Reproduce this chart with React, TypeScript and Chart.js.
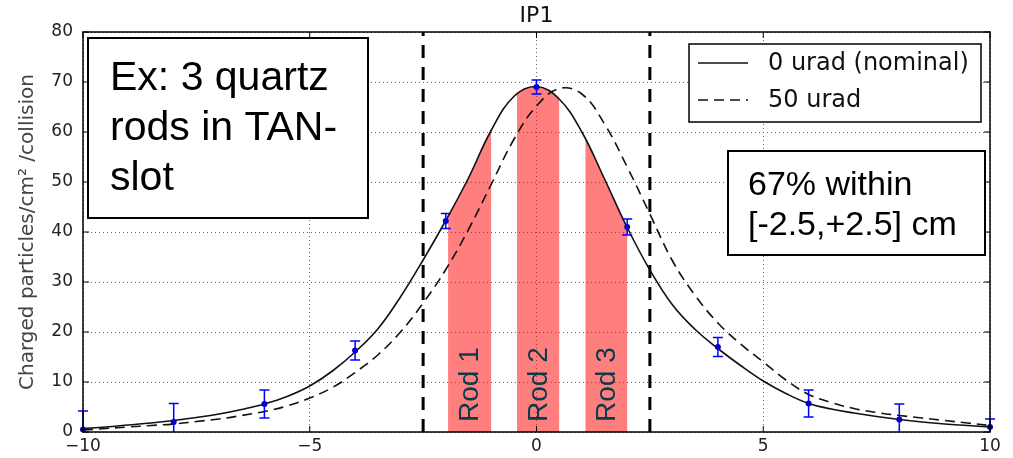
import React, { useEffect, useRef } from "react";
import { Chart, registerables } from "chart.js";

Chart.register(...registerables);

// ---- data ----
const curveX = [
  -10, -9.5, -9, -8.5, -8, -7.5, -7, -6.5, -6, -5.5, -5, -4.5, -4, -3.5, -3, -2.5, -2, -1.5, -1, -0.5,
  0, 0.5, 1, 1.5, 2, 2.5, 3, 3.5, 4, 4.5, 5, 5.5, 6, 6.5, 7, 7.5, 8, 8.5, 9, 9.5, 10,
];
const nominal0urad = [
  0.7, 1.0, 1.4, 1.8, 2.3, 2.9, 3.6, 4.5, 5.6, 7.1, 9.2, 12.2, 16.0, 20.6, 27.0, 34.4, 42.3, 50.8, 60.3, 67.1,
  69.1, 66.6, 60.0, 50.6, 40.9, 32.4, 25.4, 20.5, 16.7, 13.3, 10.2, 7.7, 5.7, 4.6, 3.8, 3.1, 2.5, 2.0, 1.6, 1.3, 1.0,
];
const tilted50urad = [
  0.4, 0.7, 1.0, 1.3, 1.6, 2.1, 2.6, 3.3, 4.1, 5.2, 6.8, 8.9, 11.9, 15.4, 20.0, 25.8, 32.5, 40.5, 49.5, 58.5,
  65.2, 68.7, 67.6, 61.6, 53.0, 43.6, 34.2, 27.3, 21.8, 17.6, 14.0, 10.4, 7.5, 5.9, 4.7, 3.9, 3.3, 2.8, 2.3, 1.8, 1.3,
];

const measX = [-10, -8, -6, -4, -2, 0, 2, 4, 6, 8, 10];
const measY = [0.5, 2.0, 5.6, 16.3, 42.2, 69.0, 41.0, 17.0, 5.7, 2.5, 1.0];
const measErr = [3.7, 3.7, 2.8, 1.9, 1.5, 1.4, 1.6, 1.9, 2.7, 3.1, 1.6];

const rodLabels = ["Rod 1", "Rod 2", "Rod 3"];
const rodFrom = [-1.95, -0.43, 1.08];
const rodTo = [-1.0, 0.5, 2.0];

const windowEdges = [-2.5, 2.5];

const seriesLabels = ["0 urad (nominal)", "50 urad"];
const noteLines = ["Ex: 3 quartz", "rods in TAN-", "slot"];
const fractionLines = ["67% within", "[-2.5,+2.5] cm"];
const chartTitle = "IP1";
const yAxisTitle = "Charged particles/cm\u00B2 /collision";

const xMin = -10, xMax = 10, xStep = 5;
const yMin = 0, yMax = 80, yStep = 10;

const DEJAVU = '"DejaVu Sans", sans-serif';
const ARIAL = '"Liberation Sans", Arial, sans-serif';
const CURVE_TENSION = 0.4;

const decorPlugin = {
  id: "decor",
  beforeDatasetsDraw(chart: any) {
    const { ctx, chartArea: a, scales } = chart;
    const x = scales.x, y = scales.y;
    const meta = chart.getDatasetMeta(0);
    const line: any = meta.dataset;
    const pts: any[] = meta.data;
    const y0 = y.getPixelForValue(0);
    rodFrom.forEach((from, i) => {
      const l = x.getPixelForValue(from);
      const r = x.getPixelForValue(rodTo[i]);
      ctx.save();
      ctx.beginPath();
      ctx.rect(l, a.top, r - l, a.bottom - a.top);
      ctx.clip();
      ctx.beginPath();
      if (line && typeof line.path === "function") {
        if (typeof line.updateControlPoints === "function") line.updateControlPoints(a, "x");
        line.path(ctx);
      } else {
        pts.forEach((p, k) => (k ? ctx.lineTo(p.x, p.y) : ctx.moveTo(p.x, p.y)));
      }
      ctx.lineTo(pts[pts.length - 1].x, y0);
      ctx.lineTo(pts[0].x, y0);
      ctx.closePath();
      ctx.fillStyle = "rgba(255,0,0,0.5)";
      ctx.fill();
      ctx.restore();
    });
  },
  afterDatasetsDraw(chart: any) {
    const { ctx, chartArea: a, scales } = chart;
    const x = scales.x, y = scales.y;
    const y0 = y.getPixelForValue(0);

    // error bars (clipped vertically to the axes)
    ctx.save();
    ctx.beginPath();
    ctx.rect(a.left - 12, a.top, a.right - a.left + 24, a.bottom - a.top);
    ctx.clip();
    ctx.strokeStyle = "#0000ff";
    ctx.lineWidth = 1.5;
    measX.forEach((mx, i) => {
      const px = x.getPixelForValue(mx);
      const t = y.getPixelForValue(measY[i] + measErr[i]);
      const b = y.getPixelForValue(measY[i] - measErr[i]);
      ctx.beginPath();
      ctx.moveTo(px, t); ctx.lineTo(px, b);
      ctx.moveTo(px - 5, t); ctx.lineTo(px + 5, t);
      ctx.moveTo(px - 5, b); ctx.lineTo(px + 5, b);
      ctx.stroke();
    });
    ctx.restore();

    // rod labels
    ctx.save();
    ctx.font = "28px " + ARIAL;
    ctx.fillStyle = "#0b3a4d";
    ctx.textBaseline = "middle";
    ctx.textAlign = "left";
    rodFrom.forEach((from, i) => {
      const cx = (x.getPixelForValue(from) + x.getPixelForValue(rodTo[i])) / 2;
      ctx.save();
      ctx.translate(cx + 1, y0 - 10);
      ctx.rotate(-Math.PI / 2);
      ctx.fillText(rodLabels[i], 0, 0);
      ctx.restore();
    });
    ctx.restore();

    // frame + inward ticks
    ctx.save();
    ctx.strokeStyle = "#000";
    ctx.lineWidth = 1.5;
    ctx.strokeRect(a.left, a.top, a.right - a.left, a.bottom - a.top);
    ctx.lineWidth = 1;
    ctx.beginPath();
    y.ticks.forEach((t: any) => {
      const py = y.getPixelForValue(t.value);
      ctx.moveTo(a.left, py); ctx.lineTo(a.left + 6, py);
      ctx.moveTo(a.right - 6, py); ctx.lineTo(a.right, py);
    });
    x.ticks.forEach((t: any) => {
      const px = x.getPixelForValue(t.value);
      ctx.moveTo(px, a.bottom); ctx.lineTo(px, a.bottom - 6);
      ctx.moveTo(px, a.top); ctx.lineTo(px, a.top + 6);
    });
    ctx.stroke();
    ctx.restore();
  },
  afterDraw(chart: any) {
    const { ctx, chartArea: a } = chart;

    // legend
    ctx.save();
    const lw = 292, lh = 78;
    const lx = a.right - 301, ly = a.top + 12;
    ctx.fillStyle = "#fff";
    ctx.fillRect(lx, ly, lw, lh);
    ctx.strokeStyle = "#000";
    ctx.lineWidth = 1.5;
    ctx.strokeRect(lx, ly, lw, lh);
    const rows = [ly + 19, ly + 56];
    ctx.strokeStyle = "#111";
    ctx.lineWidth = 1.6;
    rows.forEach((ry, i) => {
      ctx.setLineDash(i === 0 ? [] : [10, 6]);
      ctx.beginPath();
      ctx.moveTo(lx + 9, ry);
      ctx.lineTo(lx + 59, ry);
      ctx.stroke();
    });
    ctx.setLineDash([]);
    ctx.fillStyle = "#111";
    ctx.font = "24px " + DEJAVU;
    ctx.textBaseline = "middle";
    ctx.textAlign = "left";
    rows.forEach((ry, i) => ctx.fillText(seriesLabels[i], lx + 79, ry + 1));
    ctx.restore();

    // note box
    ctx.save();
    const nx = a.left + 5, ny = a.top + 6, nw = 280, nh = 180;
    ctx.fillStyle = "#fff";
    ctx.fillRect(nx, ny, nw, nh);
    ctx.strokeStyle = "#000";
    ctx.lineWidth = 2;
    ctx.strokeRect(nx, ny, nw, nh);
    ctx.fillStyle = "#000";
    ctx.font = "41px " + ARIAL;
    ctx.textBaseline = "alphabetic";
    noteLines.forEach((s, i) => ctx.fillText(s, nx + 22, ny + 52 + i * 50));
    ctx.restore();

    // fraction box
    ctx.save();
    const fw = 257, fh = 104;
    const fx = a.right - 5 - fw, fy = a.top + 119;
    ctx.fillStyle = "#fff";
    ctx.fillRect(fx, fy, fw, fh);
    ctx.strokeStyle = "#000";
    ctx.lineWidth = 2;
    ctx.strokeRect(fx, fy, fw, fh);
    ctx.fillStyle = "#000";
    ctx.font = "34px " + ARIAL;
    ctx.textBaseline = "alphabetic";
    fractionLines.forEach((s, i) => ctx.fillText(s, fx + 20, fy + 44 + i * 40));
    ctx.restore();
  },
};

export default function App() {
  const canvasRef = useRef<HTMLCanvasElement | null>(null);

  useEffect(() => {
    const canvas = canvasRef.current;
    if (!canvas) return;

    const toPts = (vals: number[]) => curveX.map((x, i) => ({ x, y: vals[i] }));

    const datasets: any[] = [
      {
        label: seriesLabels[0],
        data: toPts(nominal0urad),
        borderColor: "#111",
        borderWidth: 1.6,
        pointRadius: 0,
        tension: CURVE_TENSION,
        fill: false,
        order: 2,
      },
      {
        label: seriesLabels[1],
        data: toPts(tilted50urad),
        borderColor: "#111",
        borderWidth: 1.6,
        borderDash: [10, 6],
        pointRadius: 0,
        tension: CURVE_TENSION,
        fill: false,
        order: 3,
      },
      {
        label: "measurement",
        data: measX.map((x, i) => ({ x, y: measY[i] })),
        showLine: false,
        pointRadius: 3,
        pointBackgroundColor: "#0000b0",
        pointBorderColor: "#0000b0",
        pointBorderWidth: 0,
        clip: 8,
        order: 1,
      },
      ...windowEdges.map((e) => ({
        label: "edge",
        data: [{ x: e, y: yMin }, { x: e, y: yMax }],
        borderColor: "#000",
        borderWidth: 3,
        borderDash: [13, 9],
        pointRadius: 0,
        fill: false,
        order: 4,
      })),
    ];

    const chart = new Chart(canvas, {
      type: "line",
      data: { datasets },
      options: {
        responsive: false,
        animation: false,
        events: [],
        layout: { padding: { left: 0, right: 23, top: 0, bottom: 0 } },
        plugins: {
          legend: { display: false },
          tooltip: { enabled: false },
          title: {
            display: true,
            text: chartTitle,
            fullSize: false,
            color: "#111",
            font: { family: DEJAVU, size: 22, lineHeight: 1.2, weight: "normal" },
            padding: { top: 3, bottom: 2.6 },
          },
        },
        scales: {
          x: {
            type: "linear",
            min: xMin,
            max: xMax,
            ticks: {
              stepSize: xStep,
              color: "#222",
              font: { family: DEJAVU, size: 17 },
              padding: 4,
              maxRotation: 0,
              autoSkip: false,
              callback: (v: any) => String(v).replace("-", "\u2212"),
            },
            grid: { color: "#666", lineWidth: 1, drawTicks: false },
            border: { display: false, dash: [1, 3] },
            afterFit: (s: any) => {
              s.height = 26;
              s.paddingLeft = 0;
              s.paddingRight = 0;
            },
          },
          y: {
            min: yMin,
            max: yMax,
            ticks: {
              stepSize: yStep,
              color: "#222",
              font: { family: DEJAVU, size: 17 },
              padding: 10,
            },
            title: {
              display: true,
              text: yAxisTitle,
              color: "#444",
              font: { family: DEJAVU, size: 20, lineHeight: 1.2 },
              padding: { top: 16, bottom: 0 },
            },
            grid: { color: "#666", lineWidth: 1, drawTicks: false },
            border: { display: false, dash: [1, 3] },
            afterFit: (s: any) => {
              s.width = 83;
              s.paddingTop = 0;
              s.paddingBottom = 0;
            },
          },
        },
      } as any,
      plugins: [decorPlugin as any],
    });

    return () => chart.destroy();
  }, []);

  return (
    <div style={{ position: "absolute", left: 0, top: 0, width: 1013, height: 458, background: "#fff" }}>
      <canvas ref={canvasRef} width={1013} height={458} style={{ display: "block" }} />
    </div>
  );
}
